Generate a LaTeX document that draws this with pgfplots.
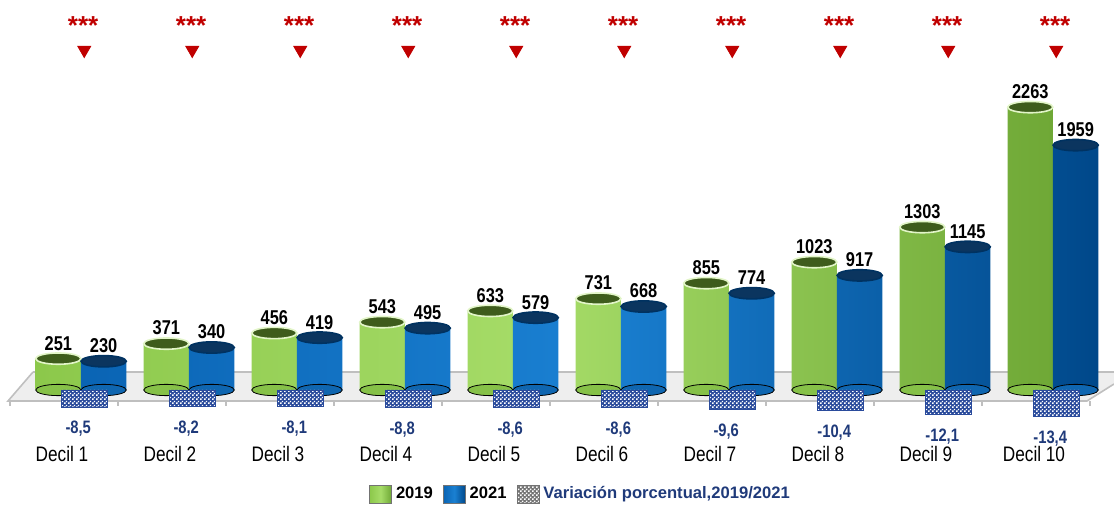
\documentclass[border=0pt]{standalone}
\usepackage{fontspec}
\setmainfont{Liberation Sans}
\newfontfamily\narrowfont[FakeStretch=0.82]{Liberation Sans}
\usepackage{pgfplots}
\pgfplotsset{compat=1.18}
\usepackage{pgfplotstable}
\usetikzlibrary{patterns.meta}
\definecolor{gL}{HTML}{8CC84B}
\definecolor{gM}{HTML}{A6DC68}
\definecolor{gR}{HTML}{6FA836}
\definecolor{gBot}{HTML}{86C148}
\definecolor{gTop}{HTML}{3E5C1C}
\definecolor{gRim}{HTML}{E2F5C8}
\definecolor{bL}{HTML}{0A64B4}
\definecolor{bM}{HTML}{1A80D2}
\definecolor{bR}{HTML}{00488A}
\definecolor{bBot}{HTML}{0F66B0}
\definecolor{bTop}{HTML}{0B355F}
\definecolor{navyc}{HTML}{1F3A7A}
\definecolor{checkc}{HTML}{2A4B9C}
\definecolor{redc}{HTML}{C00000}
\definecolor{floorc}{HTML}{EEEEEE}
\definecolor{floorl}{HTML}{BFBFBF}

\pgfdeclarepattern{name=finedots, type=uncolored,
  bottom left={\pgfpointorigin}, top right={\pgfpoint{2pt}{2pt}},
  tile size={\pgfpoint{2pt}{2pt}},
  code={\pgfpathrectangle{\pgfpoint{0.1pt}{0.1pt}}{\pgfpoint{0.85pt}{0.85pt}}
        \pgfpathrectangle{\pgfpoint{1.1pt}{1.1pt}}{\pgfpoint{0.85pt}{0.85pt}}
        \pgfusepath{fill}}}

\pgfplotstableread{
d y19 y21 var
0 251 230 -8.5
1 371 340 -8.2
2 456 419 -8.1
3 543 495 -8.8
4 633 579 -8.6
5 731 668 -8.6
6 855 774 -9.6
7 1023 917 -10.4
8 1303 1145 -12.1
9 2263 1959 -13.4
}\datatable

\begin{document}
\begin{tikzpicture}
\useasboundingbox (0,0) rectangle (557pt,254pt);
% floor (decoration)
\fill[floorc] (4pt,53.5pt) -- (16.5pt,68pt) -- (557pt,68pt) -- (557pt,62pt) -- (543.5pt,53.5pt) -- cycle;
\draw[floorl, line width=0.6pt] (16.5pt,68pt) -- (557pt,68pt);
\draw[floorl, line width=0.8pt] (16.5pt,68pt) -- (4pt,53.5pt) -- (543.5pt,53.5pt) -- (557pt,62pt);
\foreach \k in {0,...,10} {\draw[floorl, line width=0.8pt] ({5pt+54pt*\k},53.5pt) -- ({5pt+54pt*\k},51pt);}

\begin{axis}[
  at={(0,0)}, anchor=south west,
  scale only axis, width=557pt, height=254pt,
  xmin=-0.75, xmax=9.565, ymin=-944, ymax=3120,
  axis line style={draw=none}, ytick=\empty,
  xtick={0,...,9},
  xticklabels={Decil 1,Decil 2,Decil 3,Decil 4,Decil 5,Decil 6,Decil 7,Decil 8,Decil 9,Decil 10},
  major tick length=0pt,
  xticklabel style={font=\narrowfont\fontsize{10.5}{12}\selectfont, anchor=base, yshift=23pt, xshift=-9.5pt},
  clip=false,
  /pgf/number format/assume math mode=true,
  /pgf/number format/1000 sep={},
  legend columns=3,
  legend style={draw=none, fill=none, at={(0.522,0)}, anchor=south, inner sep=1pt,
    font=\bfseries\fontsize{8.3}{10}\selectfont,
    /tikz/every even column/.append style={column sep=3pt}},
  legend image code/.code={\path[#1] (0pt,-4.5pt) rectangle (11pt,4.5pt);
    \draw[black!55, line width=0.4pt] (0pt,-4.5pt) rectangle (11pt,4.5pt);},
]
% bottom ellipses
\addplot[forget plot, only marks, mark=*, mark size=11.3pt,
  mark options={yscale=0.25, draw=none, fill=gBot}]
  table[x expr=\coordindex-0.21, y expr=0]{\datatable};
\addplot[forget plot, only marks, mark=*, mark size=11.3pt,
  mark options={yscale=0.25, draw=none, fill=bBot}]
  table[x expr=\coordindex+0.21, y expr=0]{\datatable};
% cylinders
\addplot[ybar, bar width=0.42, bar shift=-0.21, draw=none,
  left color=gL, right color=gR, middle color=gM]
  table[x=d, y=y19]{\datatable};
\addlegendentry{2019}
\addplot[ybar, bar width=0.42, bar shift=0.21, draw=none,
  left color=bL, right color=bR, middle color=bM]
  table[x=d, y=y21]{\datatable};
\addlegendentry{2021}
\addlegendimage{fill=checkc, postaction={pattern=finedots, pattern color=white}}
\addlegendentry{\textcolor{navyc}{Variación porcentual,2019/2021}}
% tops
\addplot[forget plot, only marks, mark=*, mark size=11.3pt,
  mark options={yscale=0.25, fill=gTop, draw=gRim, line width=0.8pt}]
  table[x expr=\coordindex-0.21, y=y19]{\datatable};
\addplot[forget plot, only marks, mark=*, mark size=11.3pt,
  mark options={yscale=0.25, fill=bTop, draw=bR!70!black, line width=0.8pt}]
  table[x expr=\coordindex+0.21, y=y21]{\datatable};
% value labels
\addplot[forget plot, draw=none, mark=none,
  nodes near coords,
  every node near coord/.append style={anchor=south, inner sep=1pt, yshift=3pt, text=black,
    font=\narrowfont\bfseries\fontsize{10}{12}\selectfont}]
  table[x expr=\coordindex-0.21, y=y19]{\datatable};
\addplot[forget plot, draw=none, mark=none,
  nodes near coords,
  every node near coord/.append style={anchor=south, inner sep=1pt, yshift=3pt, text=black,
    font=\narrowfont\bfseries\fontsize{10}{12}\selectfont}]
  table[x expr=\coordindex+0.21, y=y21]{\datatable};
\end{axis}

\begin{axis}[
  at={(0,0)}, anchor=south west,
  scale only axis, width=557pt, height=254pt,
  xmin=-0.75, xmax=9.565, ymin=-59, ymax=195,
  hide axis, clip=false,
  /pgf/number format/assume math mode=true,
]
\addplot[ybar, bar width=0.42, bar shift=0.03, fill=checkc, draw=checkc, line width=0.4pt,
  postaction={pattern=finedots, pattern color=white}]
  table[x=d, y=var]{\datatable};
\addplot[draw=none, mark=none,
  nodes near coords={\pgfmathprintnumber[fixed, fixed zerofill, precision=1, use comma]{\pgfplotspointmeta}},
  every node near coord/.append style={anchor=north, inner sep=1pt, yshift=-6pt, xshift=-3pt,
    text=navyc, font=\narrowfont\bfseries\fontsize{9}{10}\selectfont}]
  table[x expr=\coordindex+0.03, y=var]{\datatable};
% significance markers
\addplot[only marks, mark=triangle*, mark size=3.75pt, color=redc,
  mark options={rotate=180, fill=redc, draw=redc}]
  coordinates {(0.03,170) (1.03,170) (2.03,170) (3.03,170) (4.03,170) (5.03,170) (6.03,170) (7.03,170) (8.03,170) (9.03,170)};
\addplot[draw=none, mark=none,
  nodes near coords={***},
  every node near coord/.append style={anchor=center, inner sep=0pt, text=redc,
    font=\bfseries\fontsize{13}{14}\selectfont}]
  coordinates {(0.02,182) (1.02,182) (2.02,182) (3.02,182) (4.02,182) (5.02,182) (6.02,182) (7.02,182) (8.02,182) (9.02,182)};
\end{axis}
\end{tikzpicture}
\end{document}
